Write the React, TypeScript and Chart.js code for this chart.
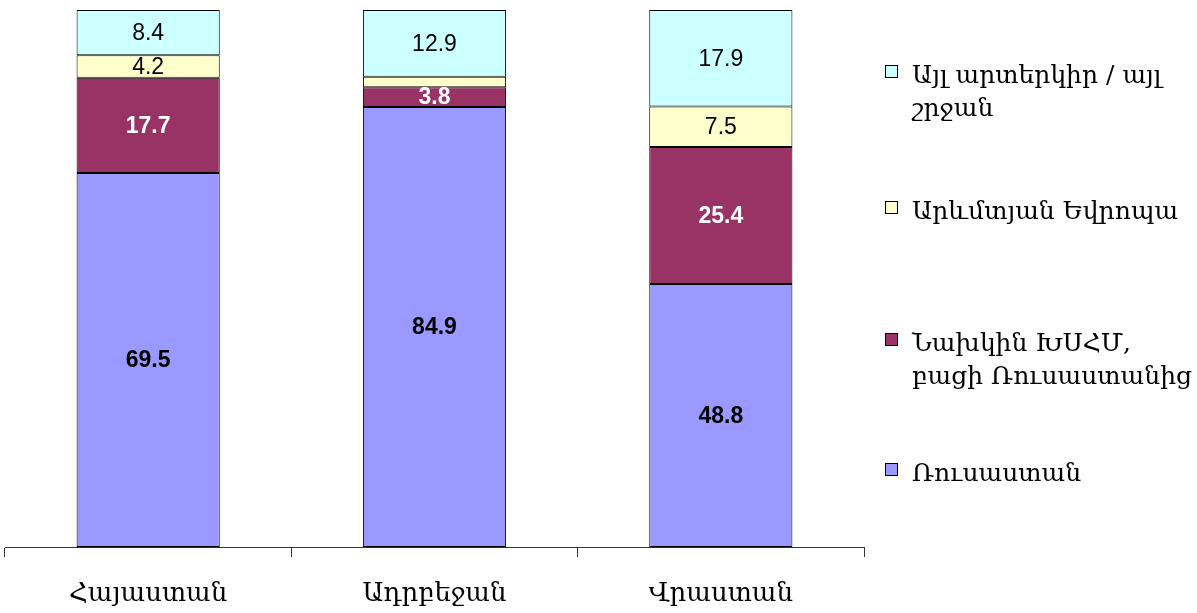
import React, { useEffect, useRef } from "react";
import { Chart, registerables } from "chart.js";

Chart.register(...registerables);

const categories = ["Հայաստան", "Ադրբեջան", "Վրաստան"];
const russia = [69.5, 84.9, 48.8];
const exUSSR = [17.7, 3.8, 25.4];
const westEurope = [4.2, 2.0, 7.5];
const other = [8.4, 12.9, 17.9];
const seriesNames = [
  "Ռուսաստան",
  "Նախկին ԽՍՀՄ, բացի Ռուսաստանից",
  "Արևմտյան Եվրոպա",
  "Այլ արտերկիր / այլ շրջան",
];
const legendLines = [
  ["Այլ արտերկիր / այլ", "շրջան"],
  ["Արևմտյան Եվրոպա"],
  ["Նախկին ԽՍՀՄ,", "բացի Ռուսաստանից"],
  ["Ռուսաստան"],
];

const colors = ["#9999FF", "#993366", "#FFFFCC", "#CCFFFF"];
const labelColors = ["#000000", "#FFFFFF", "#000000", "#000000"];
const labelBold = [true, true, false, false];

const ARM_FONT = "'DejaVu Serif', serif";
const NUM_FONT = "'Liberation Sans', Arial, sans-serif";

export default function App() {
  const ref = useRef<HTMLCanvasElement | null>(null);

  useEffect(() => {
    if (!ref.current) return;
    const raw = [russia, exUSSR, westEurope, other];
    const totals = categories.map((_, i) => raw.reduce((s, a) => s + a[i], 0));

    const valueLabels = {
      id: "valueLabels",
      afterDatasetsDraw(chart: any) {
        const ctx = chart.ctx;
        ctx.save();
        ctx.textAlign = "center";
        ctx.textBaseline = "middle";
        chart.data.datasets.forEach((ds: any, di: number) => {
          const meta = chart.getDatasetMeta(di);
          meta.data.forEach((bar: any, i: number) => {
            const v = raw[di][i];
            if (v < 3) return;
            const y = (bar.y + bar.base) / 2;
            ctx.font = (labelBold[di] ? "bold " : "") + "23px " + NUM_FONT;
            ctx.fillStyle = labelColors[di];
            ctx.fillText(v.toFixed(1), bar.x, y + 1);
          });
        });
        ctx.restore();
      },
    };

    const chart = new Chart(ref.current, {
      type: "bar",
      data: {
        labels: categories,
        datasets: raw.map((arr, di) => ({
          label: seriesNames[di],
          data: arr.map((v, i) => (v / totals[i]) * 100),
          backgroundColor: colors[di],
          borderColor: "#000000",
          borderWidth: 1,
          borderSkipped: false,
          categoryPercentage: 1,
          barPercentage: 0.5,
        })),
      },
      options: {
        responsive: false,
        animation: false,
        layout: { padding: { left: 5, right: 333, top: 10, bottom: 0 } },
        plugins: {
          legend: { display: false },
          tooltip: { enabled: false },
        },
        scales: {
          x: {
            stacked: true,
            afterFit: (scale: any) => {
              scale.height = 66;
            },
            border: { display: true, color: "#333333", width: 1 },
            grid: {
              offset: true,
              drawOnChartArea: false,
              drawTicks: true,
              tickLength: 10,
              color: "#333333",
            },
            ticks: {
              color: "#000000",
              padding: 22,
              font: { family: ARM_FONT, size: 26 },
            },
          },
          y: {
            stacked: true,
            display: false,
            min: 0,
            max: 100,
          },
        },
      },
      plugins: [valueLabels],
    });
    return () => chart.destroy();
  }, []);

  const legendTops = [58, 194, 326, 456];
  const legendColors = [colors[3], colors[2], colors[1], colors[0]];

  return (
    <div style={{ position: "absolute", left: 0, top: 0, width: 1197, height: 613, background: "#fff" }}>
      <canvas ref={ref} width={1197} height={613} style={{ display: "block" }} />
      {legendLines.map((lines, i) => (
        <div
          key={i}
          style={{
            position: "absolute",
            left: 885,
            top: legendTops[i],
            display: "flex",
            alignItems: "flex-start",
            fontFamily: ARM_FONT,
            fontSize: 25,
            lineHeight: "33px",
            color: "#000",
            whiteSpace: "nowrap",
          }}
        >
          <div
            style={{
              width: 13,
              height: 13,
              marginTop: 7,
              marginRight: 14,
              background: legendColors[i],
              border: "1px solid #000",
              boxSizing: "border-box",
            }}
          />
          <div>
            {lines.map((l, k) => (
              <div key={k}>{l}</div>
            ))}
          </div>
        </div>
      ))}
    </div>
  );
}
